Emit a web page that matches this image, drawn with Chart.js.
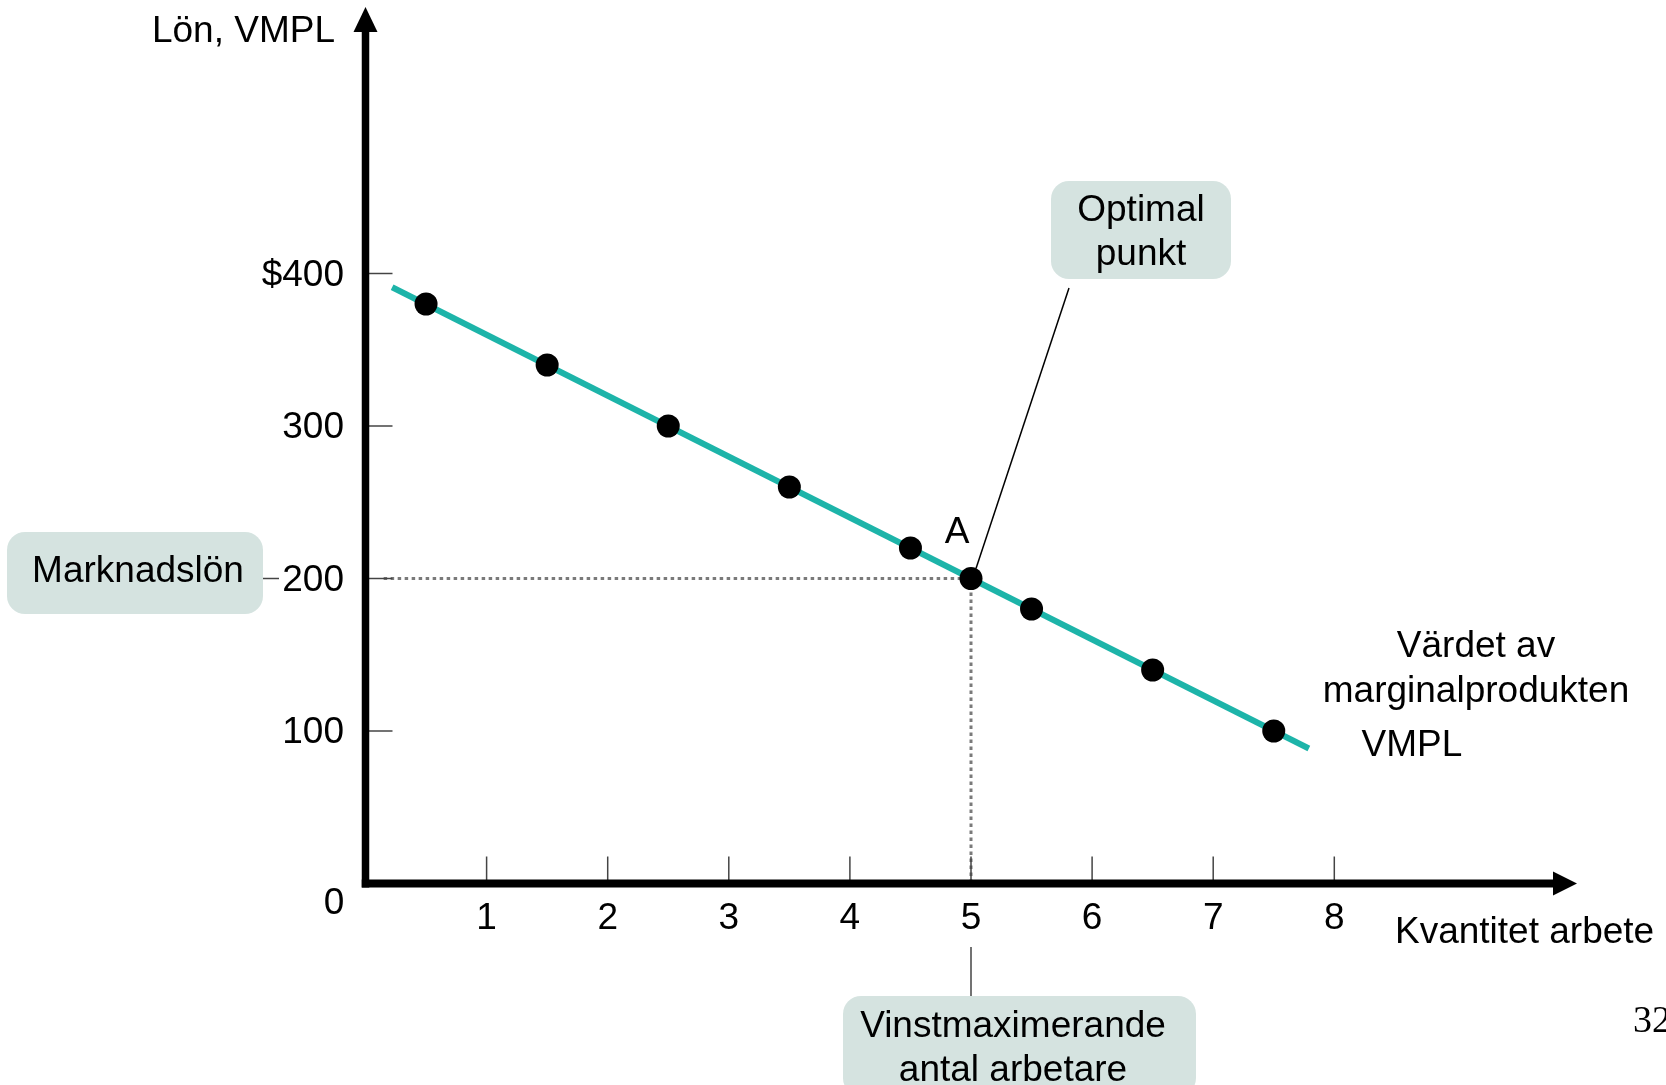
<!DOCTYPE html>
<html>
<head>
<meta charset="utf-8">
<title>VMPL</title>
<script src="https://cdn.jsdelivr.net/npm/chart.js@4.4.1/dist/chart.umd.min.js"></script>
<style>
  html, body { margin: 0; padding: 0; background: #ffffff; }
  #wrap { width: 1666px; height: 1085px; }
</style>
</head>
<body>
<div id="wrap"><canvas id="vmplCanvas" width="1666" height="1085"></canvas></div>
<script>
// Donnees
const antalArbetare = [0.5, 1.5, 2.5, 3.5, 4.5, 5, 5.5, 6.5, 7.5]
const vmplVarden = [380, 340, 300, 260, 220, 200, 180, 140, 100]
const linjeX = [0.22, 7.79]
const linjeY = [391, 88.5]
const marknadslon = 200
const optimaltAntal = 5
const dottedStartX = 0.15

const xTickValues = [1, 2, 3, 4, 5, 6, 7, 8]
const xTickLabels = ["1", "2", "3", "4", "5", "6", "7", "8"]
const yTickValues = [100, 200, 300, 400]
const yTickLabels = ["100", "200", "300", "$400"]

const FONT = '"Liberation Sans", Arial, Helvetica, sans-serif'
const TEAL = "#1db4a9"
const BOX = "#d5e3e0"

function roundBox(ctx, x, y, w, h, r) {
    ctx.beginPath()
    ctx.roundRect(x, y, w, h, r)
    ctx.fillStyle = BOX
    ctx.fill()
}

function line(ctx, x1, y1, x2, y2, w, color) {
    ctx.beginPath()
    ctx.moveTo(x1, y1)
    ctx.lineTo(x2, y2)
    ctx.lineWidth = w
    ctx.strokeStyle = color
    ctx.stroke()
}

function text(ctx, str, x, y, align) {
    ctx.textAlign = align || "center"
    ctx.fillText(str, x, y)
}

// axes avec fleches, petites graduations et annotations
const decorPlugin = {
    id: "decor",
    afterDraw(chart) {
        const ctx = chart.ctx
        const xs = chart.scales.x
        const ys = chart.scales.y
        const x0 = xs.getPixelForValue(0)
        const y0 = ys.getPixelForValue(0)
        ctx.save()

        // graduations y (a droite de l'axe)
        yTickValues.forEach(v => {
            const py = ys.getPixelForValue(v)
            line(ctx, x0, py, x0 + 27, py, 1.5, "#444")
        })
        // graduations x (au-dessus de l'axe)
        xTickValues.forEach(v => {
            const px = xs.getPixelForValue(v)
            line(ctx, px, y0, px, y0 - 27, 1.5, "#444")
        })

        // axe y + fleche
        line(ctx, x0, y0 + 4, x0, 28, 7.5, "#000")
        ctx.beginPath()
        ctx.moveTo(x0, 7)
        ctx.lineTo(x0 + 12, 32)
        ctx.lineTo(x0 - 12, 32)
        ctx.closePath()
        ctx.fillStyle = "#000"
        ctx.fill()

        // axe x + fleche
        line(ctx, x0 - 3.75, y0, 1556, y0, 8, "#000")
        ctx.beginPath()
        ctx.moveTo(1577, y0)
        ctx.lineTo(1553, y0 - 12)
        ctx.lineTo(1553, y0 + 12)
        ctx.closePath()
        ctx.fill()

        // boites
        roundBox(ctx, 7, 532, 256, 82, 18)
        roundBox(ctx, 1051, 181, 180, 98, 18)
        roundBox(ctx, 843, 996, 353, 100, 18)

        // liaisons
        const py200 = ys.getPixelForValue(marknadslon)
        const px5 = xs.getPixelForValue(optimaltAntal)
        line(ctx, 263, py200, 279, py200, 1.5, "#444")
        line(ctx, px5, 947, px5, 996, 1.5, "#444")
        line(ctx, 1069, 288, px5 + 5, py200 - 10, 1.5, "#000")

        // textes
        ctx.fillStyle = "#000"
        ctx.font = "37px " + FONT
        text(ctx, "Lön, VMPL", 335, 41.5, "right")
        text(ctx, "0", 334, 914)
        text(ctx, "Marknadslön", 138, 582)
        text(ctx, "Optimal", 1141, 221)
        text(ctx, "punkt", 1141, 265)
        text(ctx, "A", 957, 543)
        text(ctx, "Värdet av", 1476, 656.5)
        text(ctx, "marginalprodukten", 1476, 701.5)
        text(ctx, "VMPL", 1412, 756)
        text(ctx, "Kvantitet arbete", 1395, 943, "left")
        text(ctx, "Vinstmaximerande", 1013, 1037)
        text(ctx, "antal arbetare", 1013, 1081)

        ctx.font = '38px "Liberation Serif", "Times New Roman", serif'
        text(ctx, "32", 1633, 1032, "left")
        ctx.restore()
    }
}

function Initialisation() {
    const canvas = document.getElementById("vmplCanvas")
    new Chart(canvas, {
        type: "scatter",
        data: {
            datasets: [
                {
                    // points VMPL
                    data: antalArbetare.map((x, i) => ({ x: x, y: vmplVarden[i] })),
                    pointRadius: 11.5,
                    pointHoverRadius: 11.5,
                    pointBackgroundColor: "#000",
                    pointBorderWidth: 0,
                    showLine: false,
                    order: 0
                },
                {
                    // droite VMPL
                    data: linjeX.map((x, i) => ({ x: x, y: linjeY[i] })),
                    showLine: true,
                    borderColor: TEAL,
                    borderWidth: 6,
                    pointRadius: 0,
                    order: 1
                },
                {
                    // pointilles horizontal (salaire du marche)
                    data: [{ x: dottedStartX, y: marknadslon }, { x: optimaltAntal, y: marknadslon }],
                    showLine: true,
                    borderColor: "#7a7a7a",
                    borderWidth: 3,
                    borderDash: [3.5, 3.5],
                    pointRadius: 0,
                    order: 2
                },
                {
                    // pointilles vertical
                    data: [{ x: optimaltAntal, y: marknadslon }, { x: optimaltAntal, y: 0 }],
                    showLine: true,
                    borderColor: "#7a7a7a",
                    borderWidth: 3,
                    borderDash: [3.5, 3.5],
                    pointRadius: 0,
                    order: 2
                }
            ]
        },
        options: {
            responsive: false,
            animation: false,
            events: [],
            layout: {
                padding: { top: 121, right: 271.15, bottom: 0, left: 0 }
            },
            plugins: {
                legend: { display: false },
                tooltip: { enabled: false }
            },
            scales: {
                x: {
                    type: "linear",
                    min: 0,
                    max: 8.5,
                    grid: { display: false, drawTicks: false },
                    border: { display: false },
                    afterBuildTicks: (scale) => {
                        scale.ticks = xTickValues.map(v => ({ value: v }))
                    },
                    afterFit: (scale) => { scale.height = 201.5 },
                    ticks: {
                        color: "#000",
                        padding: 13,
                        maxRotation: 0,
                        autoSkip: false,
                        font: { size: 37, family: FONT },
                        callback: (value, index) => xTickLabels[index]
                    }
                },
                y: {
                    type: "linear",
                    min: 0,
                    max: 500,
                    grid: { display: false, drawTicks: false },
                    border: { display: false },
                    afterBuildTicks: (scale) => {
                        scale.ticks = yTickValues.map(v => ({ value: v }))
                    },
                    afterFit: (scale) => { scale.width = 365.5 },
                    ticks: {
                        color: "#000",
                        padding: 21.5,
                        labelOffset: 2,
                        autoSkip: false,
                        font: { size: 37, family: FONT },
                        callback: (value, index) => yTickLabels[index]
                    }
                }
            }
        },
        plugins: [decorPlugin]
    })
}

window.addEventListener("DOMContentLoaded", () => {
    Initialisation()
})
</script>
</body>
</html>
